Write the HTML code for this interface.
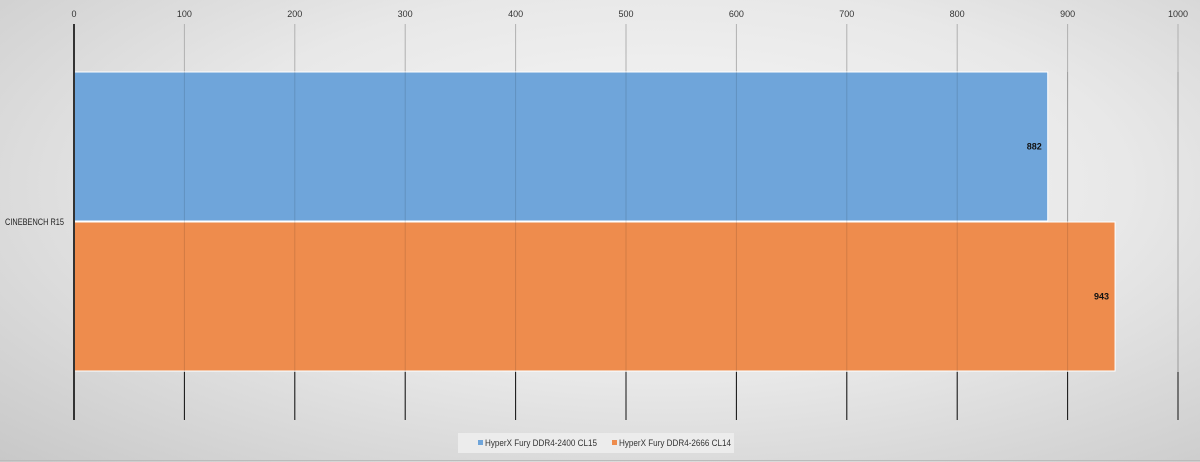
<!DOCTYPE html>
<html><head><meta charset="utf-8"><style>
html,body{margin:0;padding:0}
body{width:1200px;height:462px;overflow:hidden;background:radial-gradient(ellipse at 55% 40%,#f8f8f8 0%,#e8e8e8 50%,#c8c8c8 100%);font-family:"Liberation Sans",sans-serif}
svg{display:block}
</style></head><body>
<svg id="chart" width="1200" height="462" xmlns="http://www.w3.org/2000/svg"></svg>
<script>
const categories=["CINEBENCH R15"];
const seriesNames=["HyperX Fury DDR4-2400 CL15","HyperX Fury DDR4-2666 CL14"];
const seriesValues=[882,943];
const ticks=[0,100,200,300,400,500,600,700,800,900,1000];
const colors=["#6fa5da","#ee8c4d"];
const svg=document.getElementById('chart');
const NS="http://www.w3.org/2000/svg";
const x0=74,x1=1178,plotTop=24,plotBottom=420;
const xs=v=>x0+(v-ticks[0])/(ticks[ticks.length-1]-ticks[0])*(x1-x0);
const barTop=[72,222],barH=149;
function mk(t,a,p){const e=document.createElementNS(NS,t);for(const k in a)e.setAttribute(k,a[k]);(p||svg).appendChild(e);return e;}
ticks.forEach(t=>{
 const g=mk('line',{x1:xs(t),x2:xs(t),y1:plotTop,y2:plotBottom,stroke:'#b0b0b0','stroke-width':1});
 
 
 const g2=mk('line',{x1:xs(t),x2:xs(t),y1:372,y2:plotBottom,stroke:'#111','stroke-width':1});
 
 
 const l=mk('text',{x:xs(t),y:17,'text-anchor':'middle','font-size':9,fill:'#333'});
 l.textContent=t;
 
 
});
seriesValues.forEach((v,i)=>{
 const r=mk('rect',{x:x0,y:barTop[i],width:xs(v)-x0,height:barH,fill:colors[i],stroke:'#fff','stroke-width':1});
 
 
 const t=mk('text',{x:xs(v)-6,y:barTop[i]+barH/2+3,'text-anchor':'end','font-size':9,'font-weight':'bold',fill:'#111'});
 t.textContent=v;
 
 
});
ticks.forEach(t=>{
 if(t===0)return;
 const g=mk('line',{x1:xs(t),x2:xs(t),y1:72,y2:372,stroke:'#000','stroke-opacity':0.12,'stroke-width':1});
 
 
});
const ax=mk('line',{x1:x0,x2:x0,y1:plotTop,y2:plotBottom,stroke:'#333','stroke-width':2});


const cl=mk('text',{x:5,y:225,'font-size':9,fill:'#222',textLength:59,lengthAdjust:'spacingAndGlyphs'});
cl.textContent=categories[0];


const lb=mk('rect',{x:458,y:433,width:276,height:20,fill:'#ececec'});


const lx=[478,612];
seriesNames.forEach((n,i)=>{
 const s=mk('rect',{x:lx[i],y:440,width:5,height:5,fill:colors[i]});
 
 
 const t=mk('text',{x:lx[i]+7,y:446,'font-size':9,fill:'#333',textLength:112,lengthAdjust:'spacingAndGlyphs'});
 t.textContent=n;
 
 
});
const bl=mk('line',{x1:0,x2:1200,y1:460.5,y2:460.5,stroke:'#bbb'});


</script>
</body></html>
